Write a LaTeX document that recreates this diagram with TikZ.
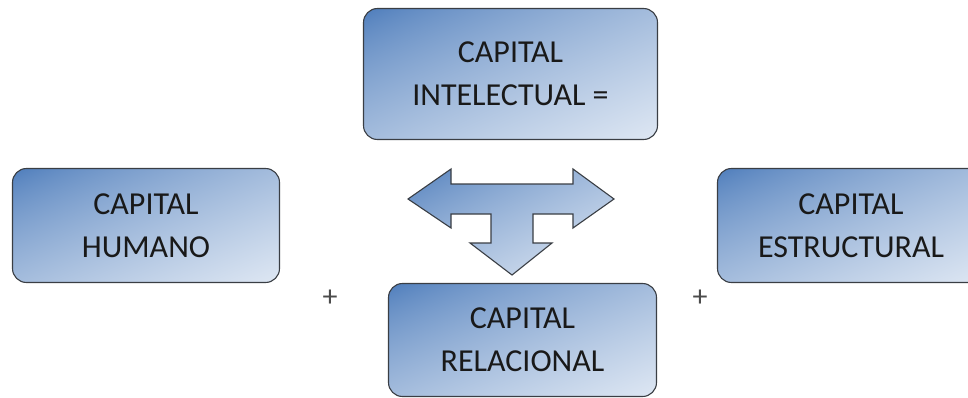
\documentclass[tikz,border=0pt]{standalone}
\usepackage{fontspec}
\setmainfont{Carlito}
\definecolor{boxline}{RGB}{58,62,68}
% degradado diagonal: oscuro arriba a la izquierda, claro abajo a la derecha
\pgfdeclarefunctionalshading{capshade}{\pgfpointorigin}{\pgfpoint{100bp}{100bp}}{}{
	75 exch sub exch 25 sub add 100 div
	dup 0 lt {pop 0} if dup 1 gt {pop 1} if 0.72 exp
	dup 0.581 mul 0.290 add
	exch dup 0.428 mul 0.478 add
	exch 0.224 mul 0.729 add
}

\begin{document}
\begin{tikzpicture}[x=1pt, y=-1pt,
	capital/.style={rectangle, rounded corners=14pt, draw=boxline, line width=1.1pt,
		shade, shading=capshade,
		align=center, inner sep=0pt, text=black!90,
		font=\fontsize{32}{43}\selectfont},
	plus/.style={text=black!70, font=\fontsize{30}{36}\selectfont},]

\clip (0,0) rectangle (968,398);

\node[capital, minimum width=294, minimum height=131] (intelectual) at (510.5,74) {CAPITAL\\INTELECTUAL =};
\node[capital, minimum width=267, minimum height=114] (humano) at (146,225.5) {CAPITAL\\HUMANO};
\node[capital, minimum width=267, minimum height=114] (estructural) at (851,225.5) {CAPITAL\\ESTRUCTURAL};
\node[capital, minimum width=268, minimum height=113] (relacional) at (522.5,340) {CAPITAL\\RELACIONAL};

\node[plus] (mas1) at (330,298) {+};
\node[plus] (mas2) at (700,298) {+};

% flecha en T
\draw[draw=boxline, line width=1.1pt, line join=miter, shade, shading=capshade]
	(408,199) -- (451,169) -- (451,184) -- (573,184) -- (573,169) -- (614,199)
	-- (573,228) -- (573,214) -- (533,214) -- (533,243) -- (552,243) -- (512,275)
	-- (470,243) -- (491,243) -- (491,214) -- (451,214) -- (451,228) -- cycle;
\end{tikzpicture}
\end{document}
